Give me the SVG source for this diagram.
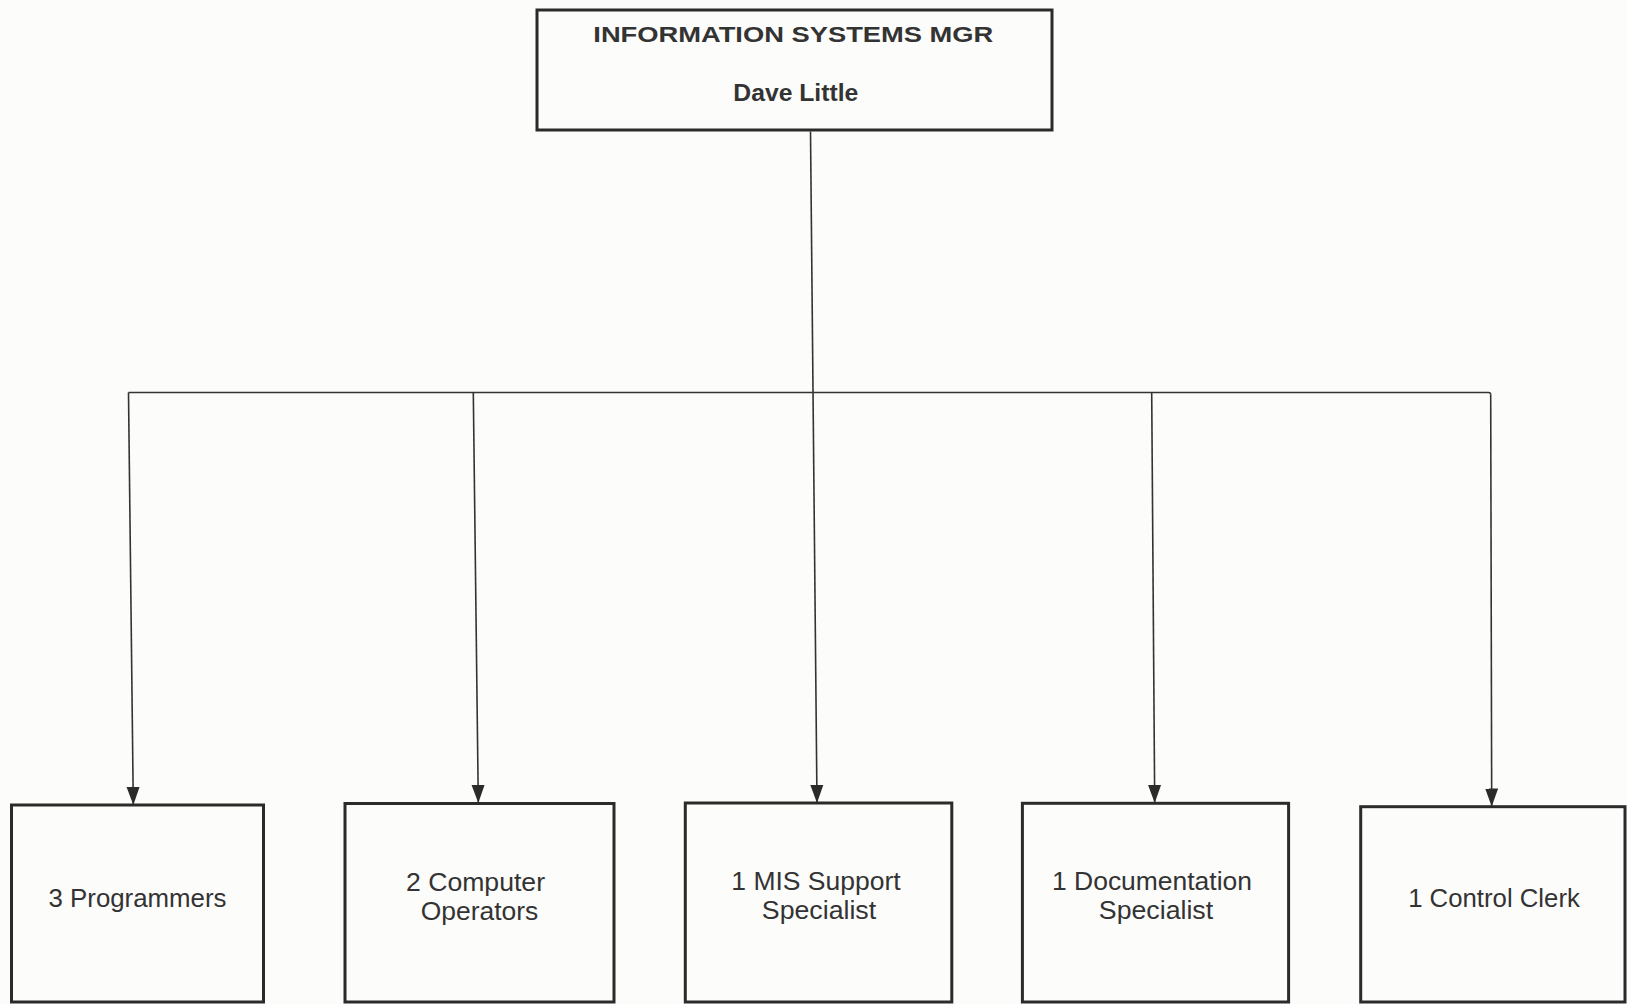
<svg xmlns="http://www.w3.org/2000/svg" width="1627" height="1004" viewBox="0 0 1627 1004">
  <style>
    .box { fill: none; stroke: #2b2b2b; stroke-width: 3; }
    .link { fill: none; stroke: #333; stroke-width: 1.6; }
    .t { font-family: "Liberation Sans", Arial, sans-serif; fill: #333; text-anchor: middle; }
    .hd { font-weight: bold; }
    .lb { font-size: 25px; }
  </style>
  <defs>
    <marker id="arrow" markerUnits="userSpaceOnUse" markerWidth="20" markerHeight="16" viewBox="0 -8 20 16" refX="18" refY="0" orient="auto">
      <path d="M0,-6.5 L18,0 L0,6.5 Z" fill="#2b2b2b"/>
    </marker>
  </defs>

  <rect width="1627" height="1004" fill="#fcfcfb"/>

  <!-- manager -->
  <g id="node-manager">
    <rect class="box" x="537" y="10" width="515" height="120"/>
    <text class="t hd" x="793.3" y="41.7" font-size="21.5" textLength="400" lengthAdjust="spacingAndGlyphs">INFORMATION SYSTEMS MGR</text>
    <text class="t hd" x="795.8" y="100.5" font-size="23.5" textLength="125" lengthAdjust="spacingAndGlyphs">Dave Little</text>
  </g>

  <!-- reporting lines -->
  <g id="connectors">
    <line class="link" x1="810.5" y1="131.5" x2="817" y2="803" marker-end="url(#arrow)"/>
    <path class="link" d="M128.5,392.5 L1488.5,392.5 Q1490.7,392.5 1490.7,394.7"/>
    <line class="link" x1="128.5" y1="392.5" x2="133.3" y2="805" marker-end="url(#arrow)"/>
    <line class="link" x1="473.3" y1="392.5" x2="478.3" y2="803" marker-end="url(#arrow)"/>
    <line class="link" x1="1151.7" y1="392.5" x2="1154.7" y2="803" marker-end="url(#arrow)"/>
    <line class="link" x1="1490.7" y1="394.7" x2="1491.7" y2="806.5" marker-end="url(#arrow)"/>
  </g>

  <!-- staff -->
  <g id="node-programmers">
    <rect class="box" x="11.5" y="805" width="252" height="197"/>
    <text class="t lb" x="137.5" y="907" textLength="178" lengthAdjust="spacingAndGlyphs">3 Programmers</text>
  </g>

  <g id="node-operators">
    <rect class="box" x="345" y="803.5" width="269" height="198.5"/>
    <text class="t lb" x="475.5" y="890.7" textLength="139" lengthAdjust="spacingAndGlyphs">2 Computer</text>
    <text class="t lb" x="479.5" y="920" textLength="117.6" lengthAdjust="spacingAndGlyphs">Operators</text>
  </g>

  <g id="node-mis-support">
    <rect class="box" x="685.3" y="803" width="266.5" height="199"/>
    <text class="t lb" x="816" y="890" textLength="169.4" lengthAdjust="spacingAndGlyphs">1 MIS Support</text>
    <text class="t lb" x="819" y="918.5" textLength="114.3" lengthAdjust="spacingAndGlyphs">Specialist</text>
  </g>

  <g id="node-documentation">
    <rect class="box" x="1022.4" y="803.3" width="266.2" height="198.7"/>
    <text class="t lb" x="1152" y="890" textLength="200" lengthAdjust="spacingAndGlyphs">1 Documentation</text>
    <text class="t lb" x="1156" y="918.5" textLength="114.3" lengthAdjust="spacingAndGlyphs">Specialist</text>
  </g>

  <g id="node-control-clerk">
    <rect class="box" x="1360.7" y="806.7" width="264.3" height="195.3"/>
    <text class="t lb" x="1494" y="907" textLength="171.7" lengthAdjust="spacingAndGlyphs">1 Control Clerk</text>
  </g>
</svg>
